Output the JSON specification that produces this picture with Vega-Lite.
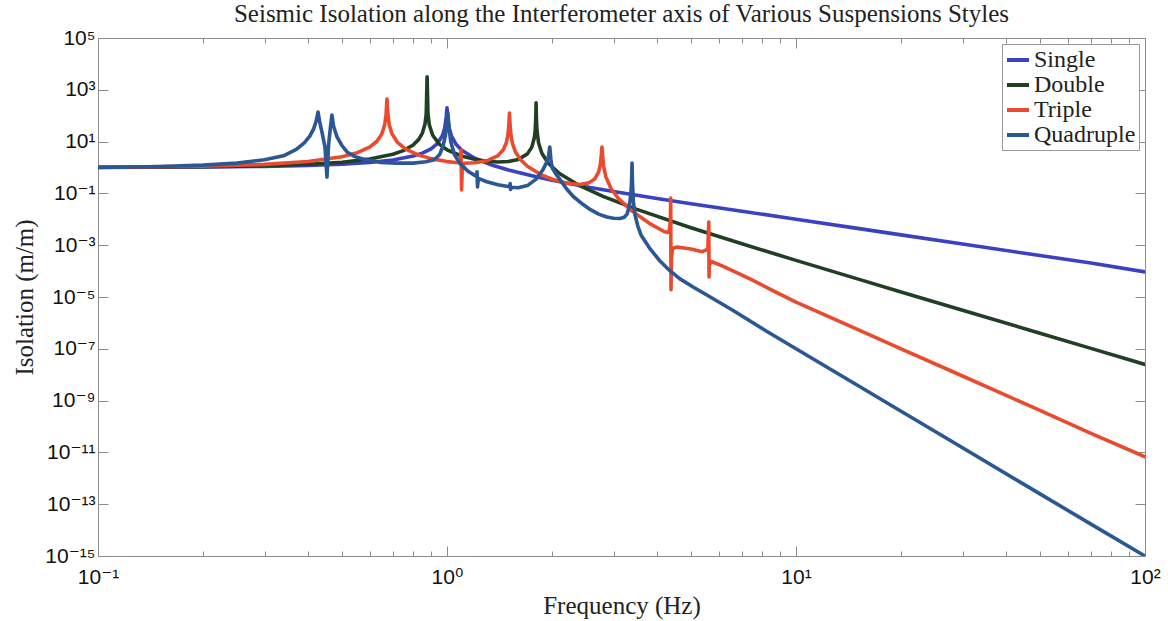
{
  "$schema": "https://vega.github.io/schema/vega-lite/v6.json",
  "width": 1047,
  "height": 518,
  "autosize": {"type": "none"},
  "padding": {"left": 98, "top": 38, "right": 23, "bottom": 65},
  "background": "white",
  "title": {"text": "Seismic Isolation along the Interferometer axis of Various Suspensions Styles", "font": "Liberation Serif", "fontSize": 25, "fontWeight": "normal", "color": "#222", "offset": 0, "anchor": "middle"},
  "config": {
    "view": {"stroke": "#8c8c8c", "strokeWidth": 1},
    "axis": {"domain": false, "grid": false, "tickColor": "#8c8c8c", "labelFont": "Liberation Sans, DejaVu Sans", "labelFontSize": 21, "labelColor": "#111", "titleFont": "Liberation Serif", "titleFontSize": 25, "titleFontWeight": "normal", "titleColor": "#222", "labelFlush": false, "labelOverlap": false}
  },
  "data": {"values": [
    {"s":"Single","f":0.1,"v":1.01},{"s":"Single","f":0.2,"v":1.042},{"s":"Single","f":0.3,"v":1.099},{"s":"Single","f":0.4,"v":1.19},{"s":"Single","f":0.5,"v":1.333},{"s":"Single","f":0.6,"v":1.5625},{"s":"Single","f":0.7,"v":1.96},{"s":"Single","f":0.8,"v":2.78},{"s":"Single","f":0.85,"v":3.6},{"s":"Single","f":0.9,"v":5.26},{"s":"Single","f":0.94,"v":8.6},{"s":"Single","f":0.97,"v":16.9},{"s":"Single","f":0.985,"v":33.6},{"s":"Single","f":0.995,"v":90},{"s":"Single","f":1.0,"v":200},{"s":"Single","f":1.005,"v":90},{"s":"Single","f":1.015,"v":32.9},{"s":"Single","f":1.03,"v":16.4},{"s":"Single","f":1.06,"v":8.1},{"s":"Single","f":1.1,"v":4.76},{"s":"Single","f":1.2,"v":2.27},{"s":"Single","f":1.35,"v":1.22},{"s":"Single","f":1.5,"v":0.8},{"s":"Single","f":1.75,"v":0.485},{"s":"Single","f":2,"v":0.32},{"s":"Single","f":2.5,"v":0.18},{"s":"Single","f":3,"v":0.118},{"s":"Single","f":4,"v":0.063},{"s":"Single","f":5,"v":0.04},{"s":"Single","f":7,"v":0.0205},{"s":"Single","f":10,"v":0.0101},{"s":"Single","f":15,"v":0.00446},{"s":"Single","f":20,"v":0.0025},{"s":"Single","f":30,"v":0.00111},{"s":"Single","f":50,"v":0.0004},{"s":"Single","f":70,"v":0.000204},{"s":"Single","f":100,"v":0.0000935},
    {"s":"Double","f":0.1,"v":1.016},{"s":"Double","f":0.2,"v":1.068},{"s":"Double","f":0.3,"v":1.165},{"s":"Double","f":0.4,"v":1.328},{"s":"Double","f":0.5,"v":1.605},{"s":"Double","f":0.6,"v":2.115},{"s":"Double","f":0.7,"v":3.25},{"s":"Double","f":0.75,"v":4.5},{"s":"Double","f":0.8,"v":7.43},{"s":"Double","f":0.83,"v":12.2},{"s":"Double","f":0.85,"v":21.3},{"s":"Double","f":0.865,"v":48},{"s":"Double","f":0.872,"v":117},{"s":"Double","f":0.877,"v":3160},{"s":"Double","f":0.882,"v":114},{"s":"Double","f":0.89,"v":44},{"s":"Double","f":0.91,"v":17.5},{"s":"Double","f":0.95,"v":7.98},{"s":"Double","f":1.0,"v":4.82},{"s":"Double","f":1.1,"v":2.78},{"s":"Double","f":1.2,"v":2.06},{"s":"Double","f":1.3,"v":1.745},{"s":"Double","f":1.4,"v":1.634},{"s":"Double","f":1.5,"v":1.7},{"s":"Double","f":1.6,"v":2.05},{"s":"Double","f":1.7,"v":3.36},{"s":"Double","f":1.75,"v":6.12},{"s":"Double","f":1.78,"v":14.5},{"s":"Double","f":1.79,"v":28.5},{"s":"Double","f":1.797,"v":94},{"s":"Double","f":1.8,"v":316},{"s":"Double","f":1.803,"v":93},{"s":"Double","f":1.81,"v":27.5},{"s":"Double","f":1.83,"v":8.87},{"s":"Double","f":1.87,"v":3.56},{"s":"Double","f":1.95,"v":1.46},{"s":"Double","f":2.1,"v":0.585},{"s":"Double","f":2.4,"v":0.198},{"s":"Double","f":2.8,"v":0.0766},{"s":"Double","f":3.5,"v":0.0241},{"s":"Double","f":5,"v":0.00473},{"s":"Double","f":7,"v":0.001129},{"s":"Double","f":10,"v":0.0002595},{"s":"Double","f":15,"v":0.0000501},{"s":"Double","f":20,"v":0.00001573},{"s":"Double","f":30,"v":0.00000309},{"s":"Double","f":50,"v":3.99e-7},{"s":"Double","f":70,"v":1.039e-7},{"s":"Double","f":100,"v":2.49e-8},
    {"s":"Triple","f":0.1,"v":1.0285},{"s":"Triple","f":0.2,"v":1.122},{"s":"Triple","f":0.3,"v":1.315},{"s":"Triple","f":0.4,"v":1.698},{"s":"Triple","f":0.5,"v":2.59},{"s":"Triple","f":0.55,"v":3.61},{"s":"Triple","f":0.6,"v":6.07},{"s":"Triple","f":0.63,"v":10.3},{"s":"Triple","f":0.65,"v":19.3},{"s":"Triple","f":0.663,"v":44.6},{"s":"Triple","f":0.669,"v":112},{"s":"Triple","f":0.673,"v":437},{"s":"Triple","f":0.677,"v":111},{"s":"Triple","f":0.683,"v":44.6},{"s":"Triple","f":0.695,"v":20.4},{"s":"Triple","f":0.72,"v":9.59},{"s":"Triple","f":0.76,"v":5.26},{"s":"Triple","f":0.82,"v":3.2},{"s":"Triple","f":0.9,"v":2.2},{"s":"Triple","f":1.0,"v":1.69},{"s":"Triple","f":1.06,"v":1.56},{"s":"Triple","f":1.09,"v":1.54},{"s":"Triple","f":1.097,"v":4.7},{"s":"Triple","f":1.101,"v":0.135},{"s":"Triple","f":1.106,"v":1.1},{"s":"Triple","f":1.12,"v":1.45},{"s":"Triple","f":1.2,"v":1.53},{"s":"Triple","f":1.3,"v":1.81},{"s":"Triple","f":1.4,"v":2.87},{"s":"Triple","f":1.45,"v":4.84},{"s":"Triple","f":1.48,"v":9.25},{"s":"Triple","f":1.495,"v":18.1},{"s":"Triple","f":1.504,"v":44.6},{"s":"Triple","f":1.51,"v":126},{"s":"Triple","f":1.516,"v":43.8},{"s":"Triple","f":1.525,"v":17.3},{"s":"Triple","f":1.54,"v":8.49},{"s":"Triple","f":1.57,"v":4.08},{"s":"Triple","f":1.62,"v":2.09},{"s":"Triple","f":1.7,"v":1.11},{"s":"Triple","f":1.85,"v":0.546},{"s":"Triple","f":2.0,"v":0.351},{"s":"Triple","f":2.2,"v":0.246},{"s":"Triple","f":2.4,"v":0.2196},{"s":"Triple","f":2.55,"v":0.255},{"s":"Triple","f":2.65,"v":0.363},{"s":"Triple","f":2.72,"v":0.68},{"s":"Triple","f":2.75,"v":1.28},{"s":"Triple","f":2.767,"v":2.86},{"s":"Triple","f":2.78,"v":6.2},{"s":"Triple","f":2.793,"v":2.72},{"s":"Triple","f":2.81,"v":1.14},{"s":"Triple","f":2.85,"v":0.452},{"s":"Triple","f":2.95,"v":0.1546},{"s":"Triple","f":3.1,"v":0.0632},{"s":"Triple","f":3.4,"v":0.0202},{"s":"Triple","f":3.8,"v":0.00699},{"s":"Triple","f":4.2,"v":0.0033},{"s":"Triple","f":4.33,"v":0.0031},{"s":"Triple","f":4.365,"v":0.0085},{"s":"Triple","f":4.375,"v":0.066},{"s":"Triple","f":4.384,"v":0.000019},{"s":"Triple","f":4.395,"v":0.0003},{"s":"Triple","f":4.43,"v":0.00075},{"s":"Triple","f":4.56,"v":0.00085},{"s":"Triple","f":5.0,"v":0.00071},{"s":"Triple","f":5.4,"v":0.00056},{"s":"Triple","f":5.59,"v":0.0007},{"s":"Triple","f":5.625,"v":0.0079},{"s":"Triple","f":5.634,"v":0.000059},{"s":"Triple","f":5.645,"v":0.00016},{"s":"Triple","f":5.7,"v":0.00024},{"s":"Triple","f":6.05,"v":0.000174},{"s":"Triple","f":6.6,"v":0.000102},{"s":"Triple","f":7.38,"v":0.00005},{"s":"Triple","f":8.5,"v":0.000019},{"s":"Triple","f":10,"v":0.0000063},{"s":"Triple","f":15,"v":5.6e-7},{"s":"Triple","f":20,"v":1.0e-7},{"s":"Triple","f":30,"v":8.9e-9},{"s":"Triple","f":50,"v":4.2e-10},{"s":"Triple","f":70,"v":5.4e-11},{"s":"Triple","f":100,"v":6.8e-12},
    {"s":"Quadruple","f":0.1,"v":1.0},{"s":"Quadruple","f":0.15,"v":1.096},{"s":"Quadruple","f":0.2,"v":1.23},{"s":"Quadruple","f":0.25,"v":1.479},{"s":"Quadruple","f":0.3,"v":1.995},{"s":"Quadruple","f":0.34,"v":2.818},{"s":"Quadruple","f":0.37,"v":5.012},{"s":"Quadruple","f":0.39,"v":8.913},{"s":"Quadruple","f":0.405,"v":16.6},{"s":"Quadruple","f":0.415,"v":31.6},{"s":"Quadruple","f":0.422,"v":63.1},{"s":"Quadruple","f":0.427,"v":138},{"s":"Quadruple","f":0.432,"v":56.2},{"s":"Quadruple","f":0.44,"v":17.8},{"s":"Quadruple","f":0.447,"v":6.31},{"s":"Quadruple","f":0.453,"v":0.427},{"s":"Quadruple","f":0.458,"v":7.94},{"s":"Quadruple","f":0.463,"v":31.6},{"s":"Quadruple","f":0.468,"v":107},{"s":"Quadruple","f":0.473,"v":39.8},{"s":"Quadruple","f":0.484,"v":15.1},{"s":"Quadruple","f":0.5,"v":7.08},{"s":"Quadruple","f":0.517,"v":3.98},{"s":"Quadruple","f":0.545,"v":2.63},{"s":"Quadruple","f":0.575,"v":2.14},{"s":"Quadruple","f":0.643,"v":1.58},{"s":"Quadruple","f":0.72,"v":1.48},{"s":"Quadruple","f":0.8,"v":1.48},{"s":"Quadruple","f":0.87,"v":1.66},{"s":"Quadruple","f":0.92,"v":2.0},{"s":"Quadruple","f":0.953,"v":3.16},{"s":"Quadruple","f":0.975,"v":7.08},{"s":"Quadruple","f":0.99,"v":17.8},{"s":"Quadruple","f":1.0,"v":50.1},{"s":"Quadruple","f":1.006,"v":126},{"s":"Quadruple","f":1.012,"v":39.8},{"s":"Quadruple","f":1.025,"v":10},{"s":"Quadruple","f":1.05,"v":3.16},{"s":"Quadruple","f":1.09,"v":1.41},{"s":"Quadruple","f":1.15,"v":0.708},{"s":"Quadruple","f":1.215,"v":0.447},{"s":"Quadruple","f":1.219,"v":0.676},{"s":"Quadruple","f":1.223,"v":0.178},{"s":"Quadruple","f":1.23,"v":0.38},{"s":"Quadruple","f":1.3,"v":0.282},{"s":"Quadruple","f":1.4,"v":0.214},{"s":"Quadruple","f":1.51,"v":0.182},{"s":"Quadruple","f":1.517,"v":0.24},{"s":"Quadruple","f":1.522,"v":0.141},{"s":"Quadruple","f":1.53,"v":0.174},{"s":"Quadruple","f":1.6,"v":0.166},{"s":"Quadruple","f":1.7,"v":0.2},{"s":"Quadruple","f":1.8,"v":0.355},{"s":"Quadruple","f":1.88,"v":0.794},{"s":"Quadruple","f":1.93,"v":1.585},{"s":"Quadruple","f":1.955,"v":2.82},{"s":"Quadruple","f":1.97,"v":6.17},{"s":"Quadruple","f":1.985,"v":2.0},{"s":"Quadruple","f":2.0,"v":1.0},{"s":"Quadruple","f":2.05,"v":0.562},{"s":"Quadruple","f":2.11,"v":0.331},{"s":"Quadruple","f":2.2,"v":0.151},{"s":"Quadruple","f":2.3,"v":0.0759},{"s":"Quadruple","f":2.45,"v":0.038},{"s":"Quadruple","f":2.57,"v":0.024},{"s":"Quadruple","f":2.72,"v":0.0158},{"s":"Quadruple","f":2.87,"v":0.0123},{"s":"Quadruple","f":3.0,"v":0.011},{"s":"Quadruple","f":3.13,"v":0.0107},{"s":"Quadruple","f":3.22,"v":0.012},{"s":"Quadruple","f":3.28,"v":0.0158},{"s":"Quadruple","f":3.33,"v":0.0316},{"s":"Quadruple","f":3.365,"v":0.1},{"s":"Quadruple","f":3.38,"v":0.316},{"s":"Quadruple","f":3.39,"v":1.48},{"s":"Quadruple","f":3.4,"v":0.251},{"s":"Quadruple","f":3.42,"v":0.05},{"s":"Quadruple","f":3.46,"v":0.0141},{"s":"Quadruple","f":3.52,"v":0.00562},{"s":"Quadruple","f":3.6,"v":0.0024},{"s":"Quadruple","f":3.8,"v":0.000794},{"s":"Quadruple","f":4.07,"v":0.000251},{"s":"Quadruple","f":4.3,"v":0.00012},{"s":"Quadruple","f":4.65,"v":0.0000501},{"s":"Quadruple","f":5.1,"v":0.0000234},{"s":"Quadruple","f":5.6,"v":0.0000112},{"s":"Quadruple","f":6.57,"v":0.00000316},{"s":"Quadruple","f":8.26,"v":4.68e-7},{"s":"Quadruple","f":10,"v":1.0e-7},{"s":"Quadruple","f":12.8,"v":1.38e-8},{"s":"Quadruple","f":15,"v":3.89e-9},{"s":"Quadruple","f":20,"v":3.89e-10},{"s":"Quadruple","f":30,"v":1.51e-11},{"s":"Quadruple","f":50,"v":2.51e-13},{"s":"Quadruple","f":70,"v":1.7e-14},{"s":"Quadruple","f":100,"v":1.0e-15}
  ]},
  "layer": [
    {
      "mark": {"type": "line", "strokeWidth": 3.6, "clip": true, "strokeJoin": "round", "strokeCap": "round"},
      "encoding": {
        "x": {"field": "f", "type": "quantitative", "scale": {"type": "log", "domain": [0.1, 100], "nice": false},
          "axis": {"orient": "bottom", "title": "Frequency (Hz)", "titlePadding": 1,
            "values": [0.1,0.2,0.3,0.4,0.5,0.6,0.7,0.8,0.9,1,2,3,4,5,6,7,8,9,10,20,30,40,50,60,70,80,90,100],
            "tickSize": {"condition": {"test": "abs(log(datum.value)/LN10 - round(log(datum.value)/LN10)) < 0.001", "value": -10}, "value": -5},
            "labelPadding": 20,
            "labelExpr": "abs(log(datum.value)/LN10 - round(log(datum.value)/LN10)) < 0.001 ? '10' + (round(log(datum.value)/LN10) < 0 ? '⁻' : '') + ['⁰','¹','²','³','⁴','⁵','⁶','⁷','⁸','⁹'][abs(round(log(datum.value)/LN10)) % 10] : ''"}},
        "y": {"field": "v", "type": "quantitative", "scale": {"type": "log", "domain": [1e-15, 1e5], "nice": false},
          "axis": {"orient": "left", "title": "Isolation (m/m)", "titlePadding": 7,
            "values": [1e5,1e3,1e1,1e-1,1e-3,1e-5,1e-7,1e-9,1e-11,1e-13,1e-15],
            "tickSize": -10, "labelPadding": 13,
            "labelExpr": "'10' + (round(log(datum.value)/LN10) < 0 ? '⁻' : '') + (abs(round(log(datum.value)/LN10)) >= 10 ? '¹' : '') + ['⁰','¹','²','³','⁴','⁵','⁶','⁷','⁸','⁹'][abs(round(log(datum.value)/LN10)) % 10]"}},
        "color": {"field": "s", "type": "nominal",
          "scale": {"domain": ["Single", "Double", "Triple", "Quadruple"], "range": ["#3a42c2", "#213f22", "#ea4a2e", "#2b5895"]},
          "legend": {"title": null, "orient": "top-right", "offset": 6, "padding": 3, "strokeColor": "#999", "fillColor": "white",
            "symbolType": "stroke", "symbolStrokeWidth": 4, "symbolSize": 484, "labelFont": "Liberation Serif", "labelFontSize": 24,
            "labelColor": "#222", "rowPadding": 0, "labelOffset": 3}}
      }
    },
    {
      "mark": {"type": "line", "strokeOpacity": 0},
      "encoding": {
        "x": {"field": "f", "type": "quantitative",
          "axis": {"orient": "top", "title": null, "labels": false,
            "values": [0.1,0.2,0.3,0.4,0.5,0.6,0.7,0.8,0.9,1,2,3,4,5,6,7,8,9,10,20,30,40,50,60,70,80,90,100],
            "tickSize": {"condition": {"test": "abs(log(datum.value)/LN10 - round(log(datum.value)/LN10)) < 0.001", "value": -10}, "value": -5}}},
        "y": {"field": "v", "type": "quantitative",
          "axis": {"orient": "right", "title": null, "labels": false,
            "values": [1e5,1e3,1e1,1e-1,1e-3,1e-5,1e-7,1e-9,1e-11,1e-13,1e-15], "tickSize": -10}},
        "detail": {"field": "s"}
      }
    }
  ],
  "resolve": {"axis": {"x": "independent", "y": "independent"}}
}
